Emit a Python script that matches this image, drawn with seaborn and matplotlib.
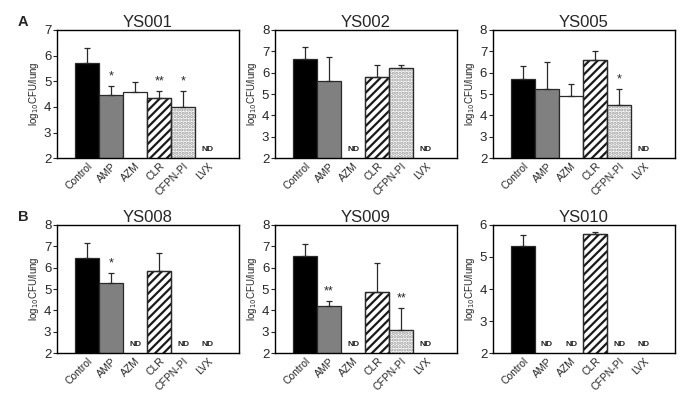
import matplotlib
matplotlib.use("Agg")
import matplotlib.pyplot as plt
import numpy as np
import pandas as pd
import seaborn as sns
from matplotlib.patches import Rectangle

sns.set_theme(style="white")
plt.rcParams["font.family"] = ["Liberation Sans", "DejaVu Sans"]
plt.rcParams["hatch.linewidth"] = 1.6

categories = ["Control", "AMP", "AZM", "CLR", "CFPN-PI", "LVX"]
titles = ["YS001", "YS002", "YS005", "YS008", "YS009", "YS010"]
ylims = [(2, 7), (2, 8), (2, 8), (2, 8), (2, 8), (2, 6)]

# mean log10 CFU/lung (nan = not detected)
nd = np.nan
means = {
    "YS001": [5.70, 4.45, 4.60, 4.35, 4.00, nd],
    "YS002": [6.62, 5.62, nd, 5.78, 6.22, nd],
    "YS005": [5.70, 5.25, 4.90, 6.58, 4.48, nd],
    "YS008": [6.45, 5.28, nd, 5.85, nd, nd],
    "YS009": [6.55, 4.20, nd, 4.85, 3.08, nd],
    "YS010": [5.35, nd, nd, 5.72, nd, nd],
}
# top of the upper error bar
upper = {
    "YS001": [6.30, 4.82, 4.98, 4.62, 4.62, nd],
    "YS002": [7.20, 6.75, nd, 6.35, 6.35, nd],
    "YS005": [6.33, 6.48, 5.48, 7.03, 5.22, nd],
    "YS008": [7.15, 5.75, nd, 6.70, nd, nd],
    "YS009": [7.10, 4.42, nd, 6.22, 4.10, nd],
    "YS010": [5.68, nd, nd, 5.78, nd, nd],
}
stars = {
    "YS001": ["", "*", "", "**", "*", ""],
    "YS002": ["", "", "", "", "", ""],
    "YS005": ["", "", "", "", "*", ""],
    "YS008": ["", "*", "", "", "", ""],
    "YS009": ["", "**", "", "", "**", ""],
    "YS010": ["", "", "", "", "", ""],
}

face_colors = ["black", "#808080", "white", "white", "white", "white"]
hatches = [None, None, None, "////", ".....", None]
hatch_colors = [None, None, None, "#1a1a1a", "#9a9a9a", None]
edge = "#2a2a2a"

fig, axes = plt.subplots(2, 3, figsize=(6.85, 4.05), dpi=100)
fig.subplots_adjust(left=0.083, right=0.985, top=0.926, bottom=0.128,
                    wspace=0.198, hspace=0.52)

for ax, title, ylim in zip(axes.flat, titles, ylims):
    vals = np.array(means[title])
    tops = np.array(upper[title])
    df = pd.DataFrame({"drug": categories, "cfu": np.nan_to_num(vals, nan=0.0)})
    sns.barplot(data=df, x="drug", y="cfu", order=categories, color="white",
                width=1.0, errorbar=None, ax=ax)
    for patch, fc, h, hc in zip(list(ax.patches), face_colors, hatches, hatch_colors):
        patch.set_facecolor(fc)
        patch.set_edgecolor(edge)
        patch.set_linewidth(0.9)
        if h:
            # hatch takes the edge colour, so redraw the outline on top
            patch.set_hatch(h)
            patch.set_edgecolor(hc)
            ax.add_patch(Rectangle(patch.get_xy(), patch.get_width(),
                                   patch.get_height(), fill=False,
                                   edgecolor=edge, linewidth=0.9, zorder=patch.get_zorder() + 0.1))

    idx = np.arange(len(categories))
    ok = ~np.isnan(vals)
    ax.errorbar(idx[ok], vals[ok],
                yerr=[np.zeros(ok.sum()), tops[ok] - vals[ok]],
                fmt="none", ecolor=edge, elinewidth=0.9, capsize=2.0,
                capthick=0.9, zorder=1)

    span = ylim[1] - ylim[0]
    for i in idx:
        if np.isnan(vals[i]):
            ax.text(i, ylim[0] + 0.04 * span, "ND", ha="center", va="bottom",
                    fontsize=6, fontweight="bold")
        elif stars[title][i]:
            ax.text(i, tops[i] + 0.03 * span, stars[title][i], ha="center",
                    va="bottom", fontsize=9)

    ax.set_xlim(-1.25, 6.3)
    ax.set_ylim(*ylim)
    ax.set_yticks(np.arange(ylim[0], ylim[1] + 1))
    ax.set_title(title, fontsize=12, pad=2)
    ax.set_xlabel("")
    ax.set_ylabel(r"log$_{10}$CFU/lung", fontsize=7, labelpad=2)
    ax.tick_params(axis="y", labelsize=9.5, length=3, width=0.8, pad=1,
                   left=True, direction="out")
    ax.tick_params(axis="x", labelsize=7.5, length=0, pad=2)
    plt.setp(ax.get_xticklabels(), rotation=45, ha="right",
             rotation_mode="anchor")
    for s in ax.spines.values():
        s.set_color("black")
        s.set_linewidth(1.0)

fig.text(0.026, 0.935, "A", fontsize=10.5, fontweight="bold")
fig.text(0.026, 0.455, "B", fontsize=10.5, fontweight="bold")

fig.savefig("out.png", dpi=100)
